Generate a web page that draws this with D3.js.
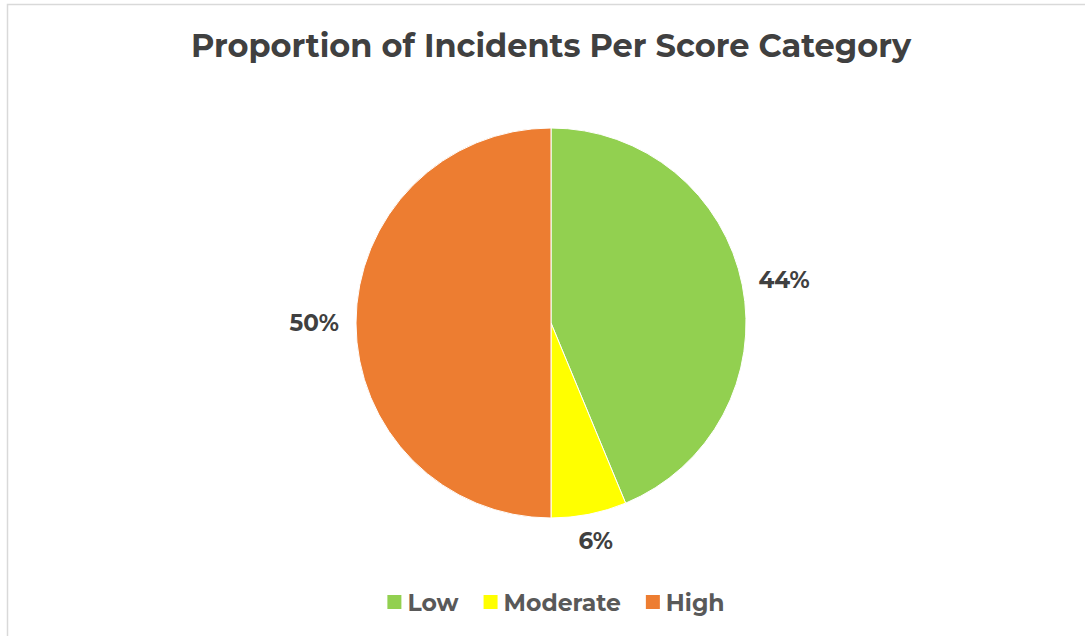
<!DOCTYPE html>
<html><head><meta charset="utf-8">
<script src="https://cdn.jsdelivr.net/npm/d3@7"></script>
<style>body{margin:0;background:#fff;}svg{display:block;}</style>
</head><body>
<svg id="c" width="1085" height="636"></svg>
<script>
const categories = ["Low", "Moderate", "High"];
const values = [7, 1, 8];
const colors = ["#92D050", "#FFFF00", "#ED7D31"];
const title = "Proportion of Incidents Per Score Category";

const W = 1085, H = 636;
const svg = d3.select("#c");
const font = "Montserrat, 'Open Sans', 'DejaVu Sans', sans-serif";

// border
svg.append("path").attr("d", `M7.5,${H} V4.5 H${W}`).attr("fill","none").attr("stroke","#d9d9d9").attr("stroke-width",1.5);

svg.append("text").attr("x", 551).attr("y", 57).attr("text-anchor","middle")
  .attr("font-family", font).attr("font-weight",700).attr("font-size",32)
  .attr("fill","#404040").text(title);

const cx = 551, cy = 323, R = 195;
const total = d3.sum(values);
const pie = d3.pie().sort(null).value(d => d)(values);
const arc = d3.arc().innerRadius(0).outerRadius(R);
const g = svg.append("g").attr("transform", `translate(${cx},${cy})`);
g.selectAll("path").data(pie).join("path")
  .attr("d", arc).attr("fill", (d,i) => colors[i])
  .attr("stroke","#fff").attr("stroke-width",1);

const fmt = d3.format(".0%");
const gap = 17;
g.selectAll("text.lbl").data(pie).join("text").attr("class","lbl")
  .each(function(d){
    const a = (d.startAngle + d.endAngle)/2;
    const ux = Math.sin(a), uy = -Math.cos(a);
    const t = d3.select(this).text(fmt(d.value/total))
      .attr("font-family", font).attr("font-weight",700).attr("font-size",23)
      .attr("fill","#404040").attr("text-anchor","middle");
    const bb = this.getBBox();
    const w = bb.width, h = 20;
    const x = ux*(R+gap) + ux*w/2;
    const y = uy*(R+gap) + uy*h/2;
    t.attr("x", x).attr("y", y + 8);
  });

// legend
const leg = svg.append("g");
const items = leg.selectAll("g").data(categories).join("g");
items.append("rect").attr("width",14).attr("height",14).attr("y",595).attr("fill",(d,i)=>colors[i]);
items.append("text").attr("x",20).attr("y",611).text(d=>d)
  .attr("font-family", font).attr("font-weight",700).attr("font-size",23.5).attr("fill","#595959");
let xpos = 0; const widths = [];
items.each(function(){ const w = d3.select(this).select("text").node().getComputedTextLength(); widths.push(20+w); });
const spacing = 25;
const totalW = d3.sum(widths) + spacing*(widths.length-1);
xpos = 556 - totalW/2;
items.attr("transform", (d,i) => { const x = xpos; xpos += widths[i] + spacing; return `translate(${x},0)`; });
</script>
</body></html>
